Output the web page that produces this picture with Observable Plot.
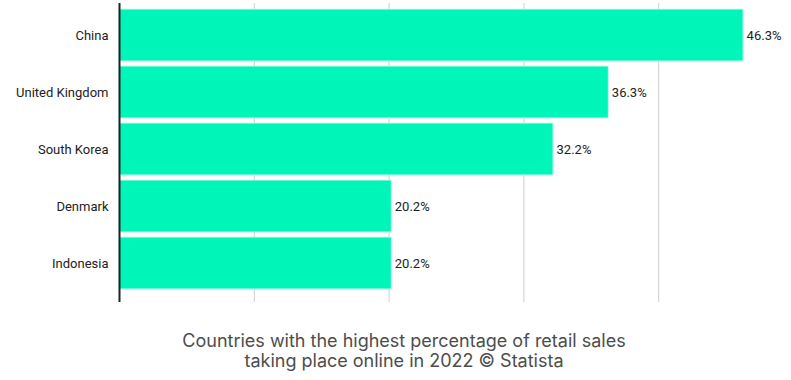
<!DOCTYPE html>
<html>
<head>
<meta charset="utf-8">
<script src="https://cdn.jsdelivr.net/npm/d3@7"></script>
<script src="https://cdn.jsdelivr.net/npm/@observablehq/plot@0.6"></script>
<style>
  html, body { margin: 0; padding: 0; background: #fff; }
  #chart svg { display: block; }
  .caption { font-family: Inter, "Noto Sans", sans-serif; font-size: 18px; line-height: 20px; color: #4d4d4d; text-align: center; margin-top: 21px; width: 808px; }
</style>
</head>
<body>
<div id="chart"></div>
<div class="caption">Countries with the highest percentage of retail sales<br>taking place online in 2022 © Statista</div>
<script>
const countries = ["China", "United Kingdom", "South Korea", "Denmark", "Indonesia"];
const shares = [46.3, 36.3, 32.2, 20.2, 20.2];
const gridTicks = [10, 20, 30, 40];

const data = countries.map((c, i) => ({country: c, value: shares[i]}));

const chart = Plot.plot({
  width: 791,
  height: 310,
  marginTop: 3,
  marginBottom: 8,
  marginLeft: 119,
  marginRight: -2,
  style: {fontFamily: "Roboto, sans-serif", fontSize: "13px", color: "#222", background: "#fff"},
  x: {domain: [0, 50], axis: null},
  y: {domain: countries, paddingInner: 0.09, paddingOuter: 0.127, align: 0.3, label: null, tickSize: 0, tickPadding: 11},
  marks: [
    Plot.ruleX(gridTicks, {stroke: "#cccccc", strokeWidth: 1}),
    Plot.barX(data, {y: "country", x: "value", fill: "#00f5b8", stroke: "#c9fbee", strokeWidth: 1}),
    Plot.text(data, {y: "country", x: "value", text: d => d.value.toFixed(1) + "%", textAnchor: "start", dx: 3, fill: "#222", fontSize: 13}),
    Plot.axisY({tickSize: 0, tickPadding: 11, fontSize: 13, fill: "#222", label: null}),
    Plot.ruleX([0], {stroke: "#222", strokeWidth: 2})
  ]
});
document.getElementById("chart").appendChild(chart);
</script>
</body>
</html>
